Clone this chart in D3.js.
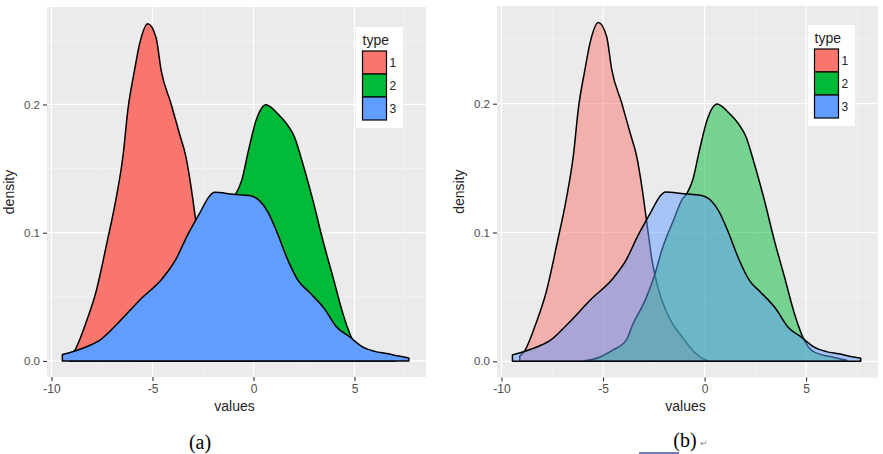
<!DOCTYPE html>
<html>
<head>
<meta charset="utf-8">
<script src="https://cdn.jsdelivr.net/npm/d3@7"></script>
<style>
  html, body { margin: 0; padding: 0; background: #ffffff; }
  svg { display: block; }
</style>
</head>
<body>
<svg id="chart" width="883" height="454"></svg>
<script>
// ---------------- data ----------------
const types = ["1", "2", "3"];
const typeColors = ["#F8766D", "#00BA38", "#619CFF"];

const type1X = [-9.1, -8.88, -8.30, -7.81, -7.23, -6.82, -6.45, -6.22, -5.89, -5.64, -5.23, -4.82, -4.57, -4.08, -3.66, -3.34, -3.09, -2.84, -2.59, -2.26, -1.77, -1.11, -0.45, 0.05, 0.15];
const type1Y = [0.004, 0.0075, 0.0295, 0.053, 0.094, 0.125, 0.161, 0.1954, 0.2265, 0.247, 0.263, 0.252, 0.2265, 0.2006, 0.177, 0.159, 0.1358, 0.1073, 0.0788, 0.0554, 0.0347, 0.0191, 0.0062, 0.001, 0.0005];

const type2X = [-5.9, -5.2, -4.5, -3.85, -3.58, -2.92, -2.43, -2.10, -1.52, -1.11, -0.86, -0.58, -0.25, 0.13, 0.62, 1.2, 1.70, 2.03, 2.44, 2.94, 3.43, 3.93, 4.42, 4.83, 5.25, 5.8, 6.4, 7.0];
const type2Y = [0.0005, 0.003, 0.0088, 0.0166, 0.027, 0.0477, 0.0684, 0.0866, 0.1099, 0.1255, 0.1306, 0.141, 0.164, 0.1876, 0.1998, 0.1928, 0.1837, 0.1747, 0.154, 0.1254, 0.0943, 0.0658, 0.0373, 0.0191, 0.0088, 0.005, 0.003, 0.0008];

const type3X = [-9.46, -8.8, -8.2, -7.6, -6.8, -5.6, -4.5, -3.85, -3.3, -2.67, -2.2, -1.93, -1.0, -0.2, 0.3, 0.71, 1.15, 1.70, 2.19, 2.77, 3.5, 4.09, 4.8, 5.4, 6.0, 6.6, 7.2, 7.69];
const type3Y = [0.005, 0.008, 0.0115, 0.0163, 0.028, 0.048, 0.0645, 0.079, 0.097, 0.115, 0.128, 0.1315, 0.1300, 0.129, 0.125, 0.1163, 0.101, 0.0788, 0.0632, 0.0535, 0.041, 0.0269, 0.0183, 0.011, 0.0075, 0.0058, 0.0038, 0.0023];

const xTicks = [-10, -5, 0, 5];
const xTickLabels = ["-10", "-5", "0", "5"];
const xMinor = [-7.5, -2.5, 2.5, 7.5];
const yTicks = [0, 0.1, 0.2];
const yTickLabels = ["0.0", "0.1", "0.2"];
const yMinor = [0.05, 0.15, 0.25];
const xTitle = "values";
const yTitle = "density";
const legendTitle = "type";
const captions = ["(a)", "(b)"];
const alphas = [1, 0.5];

// --------------------------------------------------------------
const seriesX = [type1X, type2X, type3X];
const seriesY = [type1Y, type2Y, type3Y];
const series = types.map((t, i) => ({
  type: t,
  color: typeColors[i],
  points: seriesX[i].map((x, j) => ({ x: x, y: seriesY[i][j] }))
}));

const svg = d3.select("#chart");
const FONT = "'Liberation Sans', Arial, Helvetica, sans-serif";

const panels = [
  { left: 47, right: 426, top: 7, bottom: 377, legendX: 356, legendY: 27, captionX: 200, captionY: 449 },
  { left: 497, right: 878, top: 5.8, bottom: 377.4, legendX: 808, legendY: 25, captionX: 685, captionY: 447 }
];

panels.forEach((p, pi) => {
  const x = d3.scaleLinear().domain([-10.22, 8.54]).range([p.left, p.right]);
  const y = d3.scaleLinear().domain([-0.0125, 0.276]).range([p.bottom, p.top]);
  const g = svg.append("g");

  // panel background
  g.append("rect")
    .attr("x", p.left).attr("y", p.top)
    .attr("width", p.right - p.left).attr("height", p.bottom - p.top)
    .attr("fill", "#EBEBEB");

  // minor grid
  g.selectAll(".xminor").data(xMinor.filter(v => x(v) < p.right)).enter().append("line")
    .attr("x1", d => x(d)).attr("x2", d => x(d))
    .attr("y1", p.top).attr("y2", p.bottom)
    .attr("stroke", "#F7F7F7").attr("stroke-width", 0.6);
  g.selectAll(".yminor").data(yMinor).enter().append("line")
    .attr("x1", p.left).attr("x2", p.right)
    .attr("y1", d => y(d)).attr("y2", d => y(d))
    .attr("stroke", "#F7F7F7").attr("stroke-width", 0.6);
  // major grid
  g.selectAll(".xmajor").data(xTicks).enter().append("line")
    .attr("x1", d => x(d)).attr("x2", d => x(d))
    .attr("y1", p.top).attr("y2", p.bottom)
    .attr("stroke", "#FFFFFF").attr("stroke-width", 1.2);
  g.selectAll(".ymajor").data(yTicks).enter().append("line")
    .attr("x1", p.left).attr("x2", p.right)
    .attr("y1", d => y(d)).attr("y2", d => y(d))
    .attr("stroke", "#FFFFFF").attr("stroke-width", 1.2);

  // density areas
  const area = d3.area()
    .x(d => x(d.x))
    .y0(y(0))
    .y1(d => y(d.y))
    .curve(d3.curveMonotoneX);

  series.forEach(s => {
    g.append("path")
      .datum(s.points)
      .attr("d", d => area(d) + "Z")
      .attr("fill", s.color)
      .attr("fill-opacity", alphas[pi])
      .attr("stroke", "#000000")
      .attr("stroke-width", 1.5)
      .attr("stroke-linejoin", "round");
  });

  // axes
  const xAxis = d3.axisBottom(x).tickValues(xTicks).tickSize(4).tickPadding(3)
    .tickFormat((d, i) => xTickLabels[i]);
  const ax = g.append("g").attr("transform", `translate(0,${p.bottom})`).call(xAxis);
  ax.select(".domain").remove();
  ax.selectAll("line").attr("stroke", "#333333").attr("stroke-width", 1.1);
  ax.selectAll("text").attr("fill", "#4D4D4D").style("font-family", FONT).style("font-size", "12px");

  const yAxis = d3.axisLeft(y).tickValues(yTicks).tickSize(4).tickPadding(3)
    .tickFormat((d, i) => yTickLabels[i]);
  const ay = g.append("g").attr("transform", `translate(${p.left},0)`).call(yAxis);
  ay.select(".domain").remove();
  ay.selectAll("line").attr("stroke", "#333333").attr("stroke-width", 1.1);
  ay.selectAll("text").attr("fill", "#4D4D4D").style("font-family", FONT).style("font-size", "11.5px");

  // axis titles
  g.append("text")
    .attr("x", (p.left + p.right) / 2 - 2).attr("y", 411)
    .attr("text-anchor", "middle")
    .style("font-family", FONT).style("font-size", "14px").attr("fill", "#222222")
    .text(xTitle);
  g.append("text")
    .attr("transform", `translate(${p.left - 33},${(p.top + p.bottom) / 2}) rotate(-90)`)
    .attr("text-anchor", "middle")
    .style("font-family", FONT).style("font-size", "14px").attr("fill", "#222222")
    .text(yTitle);

  // legend
  const lg = g.append("g").attr("transform", `translate(${p.legendX},${p.legendY})`);
  lg.append("rect").attr("x", 0).attr("y", 0).attr("width", 47).attr("height", 101).attr("fill", "#FFFFFF");
  lg.append("text").attr("x", 6.5).attr("y", 17.5)
    .style("font-family", FONT).style("font-size", "14px").attr("fill", "#222222")
    .text(legendTitle);
  const keyH = 23;
  series.forEach((s, i) => {
    lg.append("rect")
      .attr("x", 6.5).attr("y", 24 + i * keyH)
      .attr("width", 24).attr("height", keyH)
      .attr("fill", s.color)
      .attr("stroke", "#000000").attr("stroke-width", 1.2);
    lg.append("text")
      .attr("x", 33.5).attr("y", 24 + i * keyH + keyH / 2 + 4.5)
      .style("font-family", FONT).style("font-size", "12px").attr("fill", "#222222")
      .text(s.type);
  });

  // caption
  svg.append("text")
    .attr("x", p.captionX).attr("y", p.captionY)
    .attr("text-anchor", "middle")
    .style("font-family", "'Liberation Serif', 'Times New Roman', serif")
    .style("font-size", "20px").attr("fill", "#000000")
    .text(captions[pi]);
});

// Word-document remnants under caption (b)
svg.append("text")
  .attr("x", 700).attr("y", 446)
  .style("font-family", "'DejaVu Sans', sans-serif").style("font-size", "9px").attr("fill", "#8a8a8a")
  .text("↵");
svg.append("line")
  .attr("x1", 639).attr("x2", 679).attr("y1", 453).attr("y2", 453)
  .attr("stroke", "#3F5597").attr("stroke-width", 1.5);
</script>
</body>
</html>
